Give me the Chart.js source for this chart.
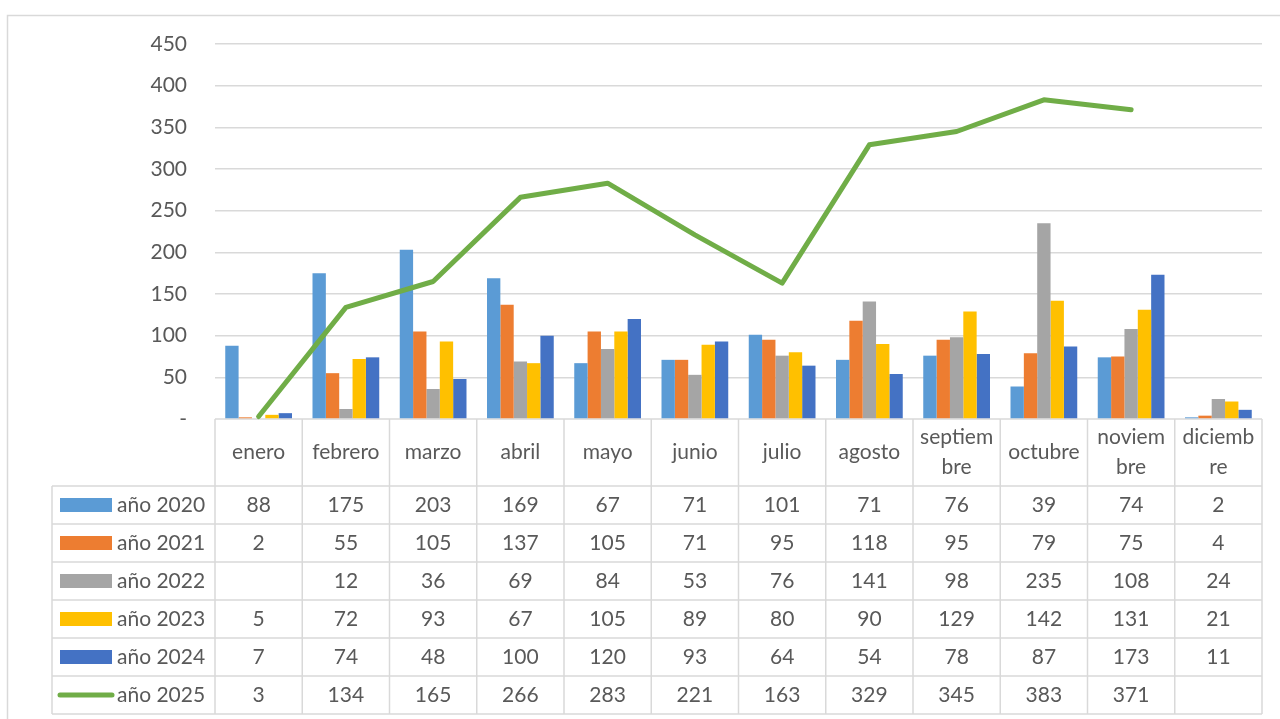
<!DOCTYPE html>
<html>
<head>
<meta charset="utf-8">
<script src="https://cdn.jsdelivr.net/npm/chart.js@4"></script>
<style>
html,body{margin:0;padding:0;background:#fff;}
canvas{display:block;}
</style>
</head>
<body>
<canvas id="c" width="1280" height="719"></canvas>
<script>
const categories = ['enero','febrero','marzo','abril','mayo','junio','julio','agosto','septiembre','octubre','noviembre','diciembre'];
const headerLines = [['enero'],['febrero'],['marzo'],['abril'],['mayo'],['junio'],['julio'],['agosto'],['septiem','bre'],['octubre'],['noviem','bre'],['diciemb','re']];
const seriesNames = ['año 2020','año 2021','año 2022','año 2023','año 2024','año 2025'];
const s2020 = [88,175,203,169,67,71,101,71,76,39,74,2];
const s2021 = [2,55,105,137,105,71,95,118,95,79,75,4];
const s2022 = [null,12,36,69,84,53,76,141,98,235,108,24];
const s2023 = [5,72,93,67,105,89,80,90,129,142,131,21];
const s2024 = [7,74,48,100,120,93,64,54,78,87,173,11];
const s2025 = [3,134,165,266,283,221,163,329,345,383,371,null];
const yTickValues = [0,50,100,150,200,250,300,350,400,450];
const yTickLabels = ['-','50','100','150','200','250','300','350','400','450'];

const colors = ['#5B9BD5','#ED7D31','#A5A5A5','#FFC000','#4472C4','#70AD47'];
const allSeries = [s2020,s2021,s2022,s2023,s2024,s2025];
const FONT = 'Lato, "Liberation Sans", sans-serif';
const TXT = '#595959';
const GRID = '#D9D9D9';

const framePlugin = {
  id:'frame',
  beforeDraw(chart){
    const ctx = chart.ctx;
    ctx.save();
    ctx.fillStyle = '#fff';
    ctx.fillRect(0,0,chart.width,chart.height);
    ctx.strokeStyle = GRID;
    ctx.lineWidth = 1.5;
    ctx.strokeRect(7.5,15.5,1300,720);
    ctx.restore();
  }
};

const tablePlugin = {
  id:'dataTable',
  beforeDatasetsDraw(chart){
    const ctx = chart.ctx;
    const xs = chart.scales.x;
    const area = chart.chartArea;
    const n = categories.length;
    const colW = (area.right - area.left) / n;
    const top = area.bottom;
    const headerBottom = 486;
    const rowH = 38;
    const legendLeft = 52;
    const tableBottom = headerBottom + rowH * seriesNames.length;
    ctx.save();
    ctx.strokeStyle = GRID;
    ctx.lineWidth = 1.5;
    ctx.beginPath();
    // top line
    ctx.moveTo(area.left, top); ctx.lineTo(area.right, top);
    // horizontal row lines
    for (let r = 0; r <= seriesNames.length; r++) {
      const y = headerBottom + r*rowH;
      ctx.moveTo(legendLeft, y); ctx.lineTo(area.right, y);
    }
    // vertical lines
    for (let i = 0; i <= n; i++) {
      const x = xs.getPixelForValue(0) - colW/2 + i*colW;
      ctx.moveTo(x, top); ctx.lineTo(x, tableBottom);
    }
    ctx.moveTo(legendLeft, headerBottom); ctx.lineTo(legendLeft, tableBottom);
    ctx.stroke();

    ctx.fillStyle = TXT;
    ctx.font = '21px ' + FONT;
    ctx.textAlign = 'center';
    ctx.textBaseline = 'middle';
    // header
    for (let i = 0; i < n; i++) {
      const cx = xs.getPixelForValue(i);
      const lines = headerLines[i];
      const cy = (top + headerBottom)/2;
      if (lines.length === 1) {
        ctx.fillText(lines[0], cx, cy);
      } else {
        ctx.fillText(lines[0], cx, cy - 15);
        ctx.fillText(lines[1], cx, cy + 15);
      }
    }
    // rows
    for (let r = 0; r < seriesNames.length; r++) {
      const cy = headerBottom + r*rowH + rowH/2;
      for (let i = 0; i < n; i++) {
        const v = allSeries[r][i];
        if (v === null || v === undefined) continue;
        ctx.fillStyle = TXT;
        ctx.textAlign = 'center';
        ctx.fillText(String(v), xs.getPixelForValue(i), cy);
      }
      // legend key
      if (r < 5) {
        ctx.fillStyle = colors[r];
        ctx.fillRect(60, cy - 7, 52, 14);
      } else {
        ctx.strokeStyle = colors[r];
        ctx.lineWidth = 5;
        ctx.lineCap = 'round';
        ctx.beginPath();
        ctx.moveTo(60, cy); ctx.lineTo(112, cy);
        ctx.stroke();
      }
      ctx.fillStyle = TXT;
      ctx.textAlign = 'left';
      ctx.fillText(seriesNames[r], 117, cy);
    }
    ctx.restore();
  }
};

const datasets = [];
for (let r = 0; r < 5; r++) {
  datasets.push({
    type:'bar',
    label: seriesNames[r],
    data: allSeries[r],
    backgroundColor: colors[r],
    borderWidth: 0,
    barPercentage: 1.0,
    categoryPercentage: 0.765,
    order: 1
  });
}
datasets.push({
  type:'line',
  label: seriesNames[5],
  data: s2025,
  borderColor: colors[5],
  backgroundColor: colors[5],
  borderWidth: 5,
  pointRadius: 0,
  tension: 0,
  spanGaps: false,
  borderCapStyle: 'round',
  borderJoinStyle: 'round',
  clip: false,
  order: 0
});

new Chart(document.getElementById('c'), {
  type:'bar',
  data:{ labels: categories, datasets },
  options:{
    responsive:false,
    animation:false,
    devicePixelRatio:1,
    layout:{ padding:{ left:0, right:18, top:44, bottom:300 } },
    plugins:{ legend:{display:false}, tooltip:{enabled:false} },
    scales:{
      x:{ display:false, offset:true },
      y:{
        min:0, max:450,
        afterFit(scale){ scale.width = 215; },
        afterBuildTicks(scale){ scale.ticks = yTickValues.map(v => ({value:v})); },
        ticks:{
          padding:28,
          color:TXT,
          font:{ family:FONT, size:21 },
          callback(value){ const i = yTickValues.indexOf(value); return i >= 0 ? yTickLabels[i] : ''; }
        },
        grid:{ color:(c)=> c.tick && c.tick.value === 0 ? 'rgba(0,0,0,0)' : GRID, lineWidth:1.5, drawTicks:false },
        border:{ display:false }
      }
    }
  },
  plugins:[framePlugin, tablePlugin]
});
</script>
</body>
</html>
